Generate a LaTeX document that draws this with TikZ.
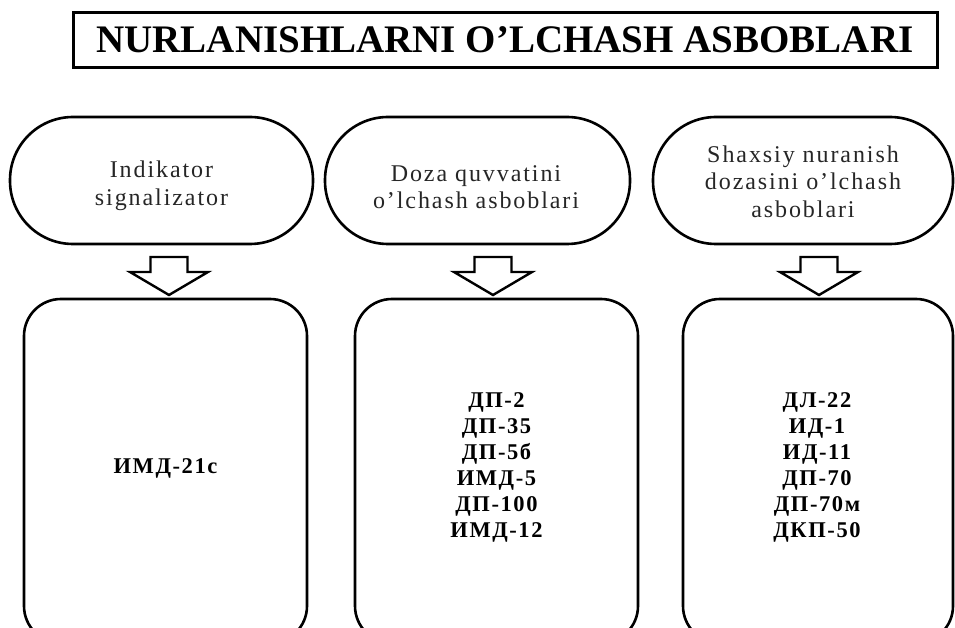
\documentclass[tikz,border=0pt]{standalone}
\usepackage{fontspec}
\setmainfont{Liberation Serif}[BoldFont={Liberation Serif Bold}]
\newfontfamily\titlefont{Liberation Serif Bold}
\newfontfamily\ovalfont[LetterSpace=8]{Liberation Serif}
\newfontfamily\listfont[LetterSpace=7]{Liberation Serif Bold}
\begin{document}
\begin{tikzpicture}[x=1pt,y=-1pt,
  titlebox/.style={draw, line width=3pt, minimum width=864pt, minimum height=55pt,
    inner sep=0pt, font=\titlefont\fontsize{39}{44}\selectfont},
  oval/.style={draw, line width=2.6pt, rounded corners=63pt, minimum height=127pt,
    inner sep=0pt},
  ovaltext/.style={align=center, inner sep=0pt, text=black!85,
    font=\ovalfont\fontsize{24}{27.5}\selectfont},
  listbox/.style={draw, line width=2.6pt, rounded corners=37pt, minimum height=344pt,
    inner sep=0pt},
  listtext/.style={align=center, inner sep=0pt,
    font=\listfont\fontsize{22.5}{26}\selectfont},
  blockarrow/.style={draw, line width=2.4pt, fill=white, line join=miter}
]
\clip (0,0) rectangle (955,628);
\fill[white] (0,0) rectangle (955,628);

% heading
\node[titlebox] (title) at (505,40) {NURLANISHLARNI O’LCHASH ASBOBLARI};

% categories
\node[oval, minimum width=303pt] (o1) at (161.5,180.5) {};
\node[oval, minimum width=305pt] (o2) at (477.5,180.5) {};
\node[oval, minimum width=300pt] (o3) at (803,180.5) {};
\node[ovaltext] (c1) at (161.5,186) {Indikator\\signalizator};
\node[ovaltext] (c2) at (476,187) {Doza quvvatini\\o’lchash asboblari};
\node[ovaltext] (c3) at (803,181.5) {Shaxsiy nuranish\\dozasini o’lchash\\asboblari};

% instrument lists
\node[listbox, minimum width=283pt] (b1) at (165.5,471) {};
\node[listbox, minimum width=283pt] (b2) at (496.5,471) {};
\node[listbox, minimum width=270pt] (b3) at (818,471) {};

\node[listtext] (t1) at (165.5,468) {ИМД-21с};
\node[listtext] (t2) at (496.5,467.5) {ДП-2\\ДП-35\\ДП-5б\\ИМД-5\\ДП-100\\ИМД-12};
\node[listtext] (t3) at (817,467.5) {ДЛ-22\\ИД-1\\ИД-11\\ДП-70\\ДП-70м\\ДКП-50};

% block arrows from each category to its list
\coordinate (a1) at (169,257);
\coordinate (a2) at (493,257);
\coordinate (a3) at (819,257);
\foreach \a in {a1,a2,a3}
  \draw[blockarrow] (\a) ++(-18.5,0) -- ++(37,0) -- ++(0,15) -- ++(20.5,0)
    -- ++(-39,23) -- ++(-39,-23) -- ++(20.5,0) -- cycle;
\end{tikzpicture}
\end{document}
